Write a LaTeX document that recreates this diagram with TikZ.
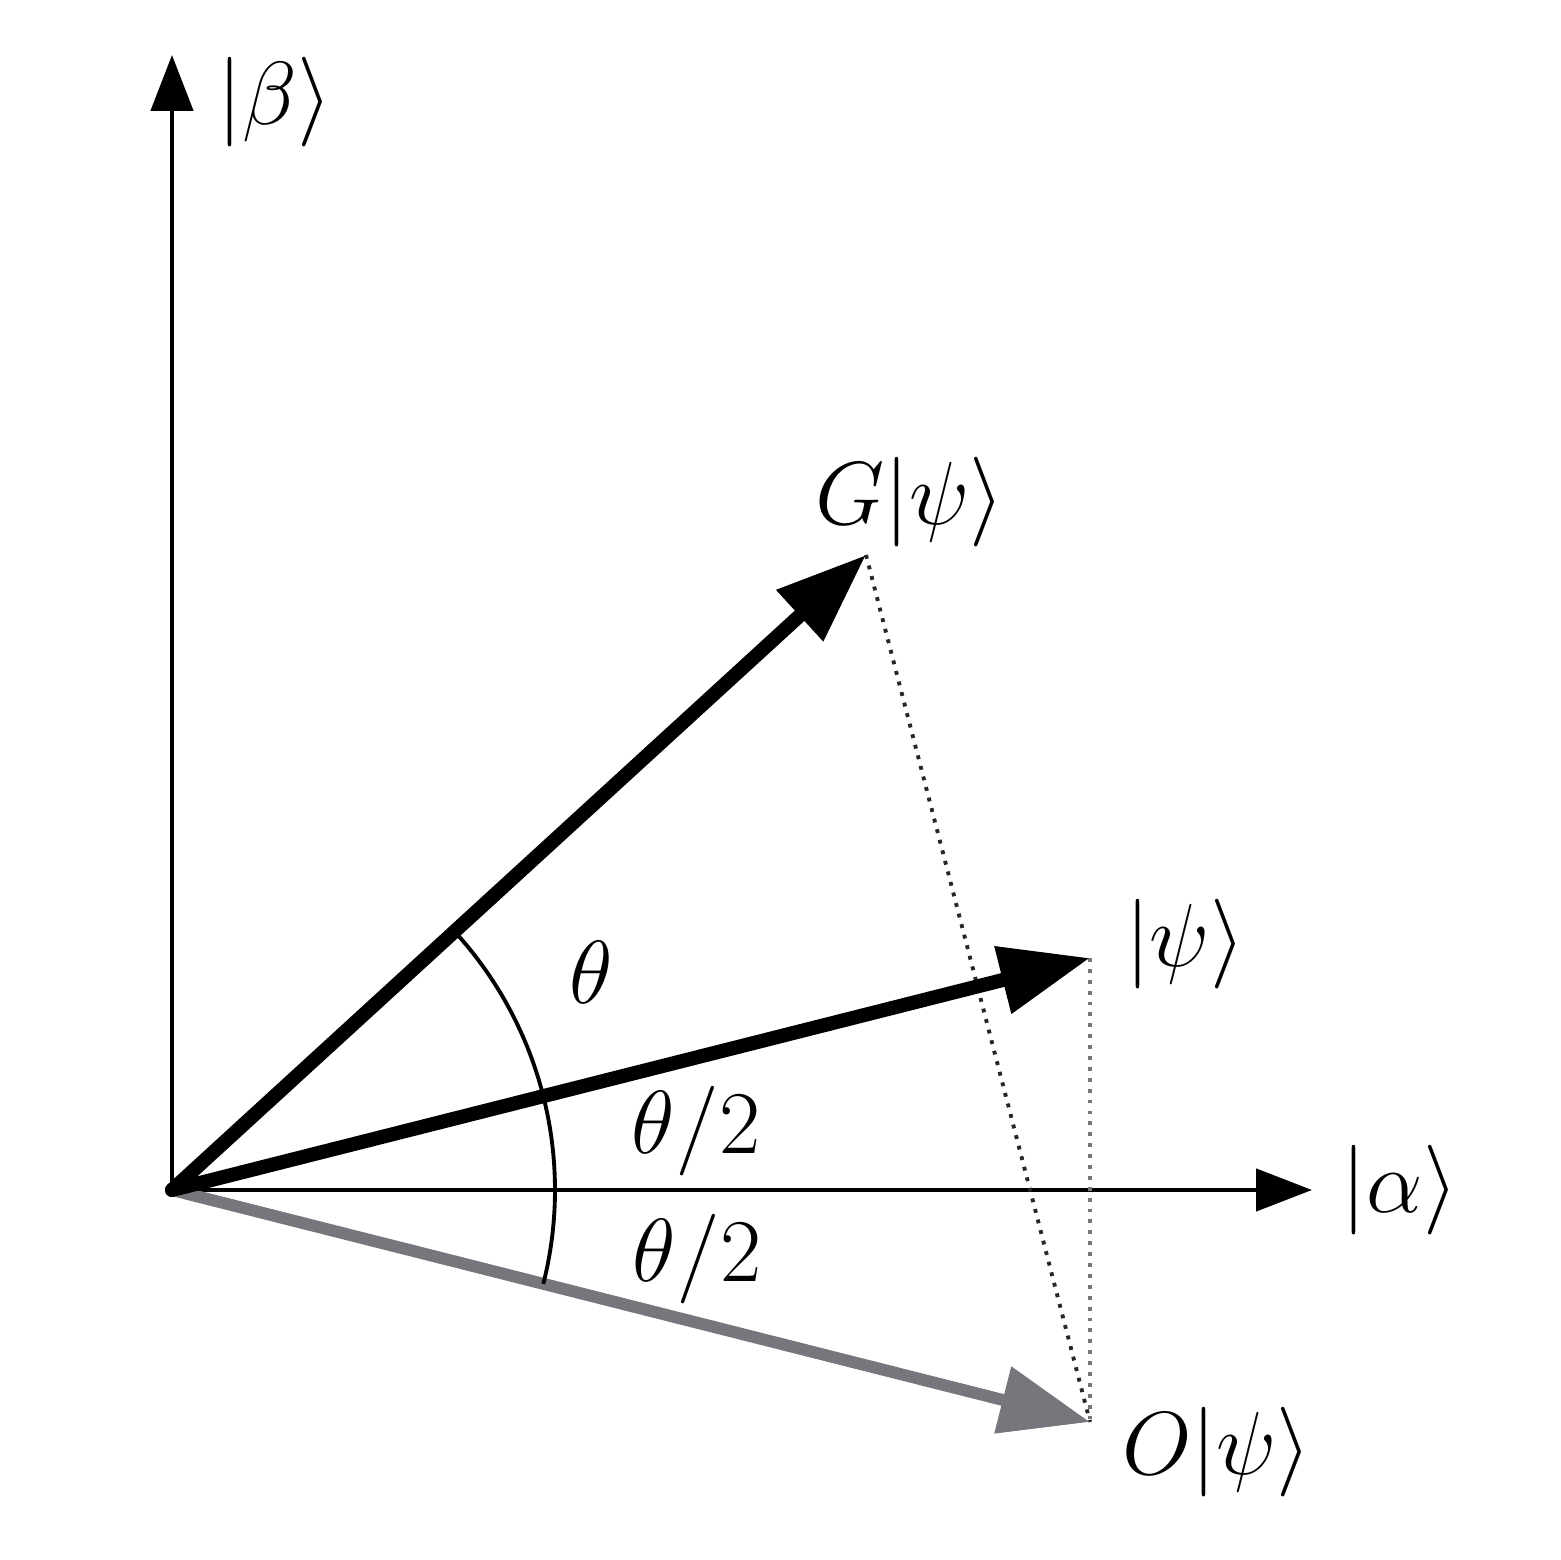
\documentclass[tikz,border=0pt]{standalone}
\usepackage{fix-cm}
\usetikzlibrary{arrows.meta}
\definecolor{vecgray}{RGB}{118,119,124}
\begin{document}
\begin{tikzpicture}[
  axis/.style={line width=1.3pt,-{Triangle[length=0.56cm,width=0.42cm]}},
  vec/.style={line width=4pt,-{Triangle[length=0.9cm,width=0.66cm]}},
  gvec/.style={line width=3.4pt,draw=vecgray,-{Triangle[length=0.9cm,width=0.66cm]}},
  proj/.style={line width=1.1pt,dotted},
  lab/.style={font=\fontsize{25.5}{30}\selectfont,inner sep=0pt}
]
\useasboundingbox (0,0) rectangle (15.6,15.6);
\coordinate (o) at (1.72,3.70);
\coordinate (b) at (1.72,15.05);
\coordinate (a) at (13.12,3.70);
\coordinate (p) at (10.90,6.02);
\coordinate (g) at (8.66,10.05);
\coordinate (q) at (10.90,1.38);
% axes
\draw[axis] (o) -- (b);
\draw[axis] (o) -- (a);
% projections
\draw[proj,black!85] (g) -- (q);
\draw[proj,vecgray] (p) -- (q);
% vectors
\draw[gvec,line cap=round] (o) -- (q);
\draw[vec,line cap=round] (o) -- (g);
\draw[vec,line cap=round] (o) -- (p);
% angle arc
\draw[line width=1.1pt] (o) ++(-14.2:3.83) arc[start angle=-14.2,end angle=42.6,radius=3.83];
% labels
\node[lab] (lb) at (2.75,14.58) {$|\beta\rangle$};
\node[lab] (lg) at (9.10,10.58) {$G|\psi\rangle$};
\node[lab] (lp) at (11.85,6.16) {$|\psi\rangle$};
\node[lab] (la) at (14.00,3.70) {$|\alpha\rangle$};
\node[lab] (lq) at (12.17,1.08) {$O|\psi\rangle$};
\node[lab] (lt) at (5.91,5.88) {$\theta$};
\node[lab] (lt1) at (6.96,4.29) {$\theta/2$};
\node[lab] (lt2) at (6.97,3.01) {$\theta/2$};
\end{tikzpicture}
\end{document}
